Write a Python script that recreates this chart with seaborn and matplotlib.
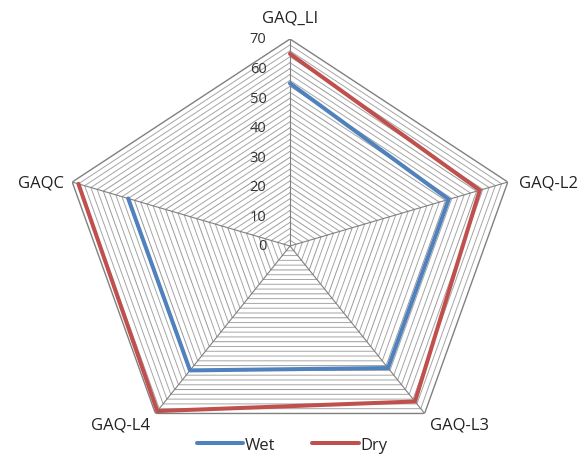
import numpy as np
import matplotlib
matplotlib.use("Agg")
import matplotlib.pyplot as plt
import matplotlib.transforms as mtransforms
import seaborn as sns
import pandas as pd

categories = ["GAQ_LI", "GAQ-L2", "GAQ-L3", "GAQ-L4", "GAQC"]
wet = [55, 51, 51, 52, 52]
dry = [65, 61, 65, 69, 68]
r_ticks = [0, 10, 20, 30, 40, 50, 60, 70]
r_max = 70

sns.set_style("white")
plt.rcParams["font.family"] = ["Open Sans", "DejaVu Sans"]

fig = plt.figure(figsize=(5.84, 4.56), dpi=100)
ax = fig.add_axes([61/584, 2/456, 458/584, 414/456], projection="polar")
ax.set_aspect("auto")
ax.set_theta_offset(np.pi/2)
ax.set_theta_direction(-1)

n = len(categories)
theta = np.linspace(0, 2*np.pi, n, endpoint=False)
theta_c = np.append(theta, theta[0])

# polygon gridlines every 2 units
for rv in range(2, r_max + 1, 2):
    col = "#808080" if rv == r_max else ("#999999" if rv % 10 == 0 else "#a6a6a6")
    lw = 1.0 if rv == r_max else 0.7
    ax.plot(theta_c, [rv]*(n+1), color=col, lw=lw, zorder=1)
for t in theta:
    ax.plot([t, t], [0, r_max], color="#808080", lw=0.8, zorder=1)

for name, vals, color in [("Wet", wet, "#4F81BD"), ("Dry", dry, "#C0504D")]:
    df = pd.DataFrame({"theta": theta_c, "r": list(vals) + [vals[0]]})
    sns.lineplot(data=df, x="theta", y="r", sort=False, ax=ax, color=color,
                 lw=2.9, label=name, zorder=3)

ax.set_ylim(0, r_max)
ax.grid(False)
ax.spines["polar"].set_visible(False)
ax.set_xticks([])
ax.set_yticks([])
ax.set_xlabel("")
ax.set_ylabel("")

# radial tick labels
off = mtransforms.offset_copy(ax.transData, fig=fig, x=-17, y=0, units="points")
for v in r_ticks:
    ax.text(0, v, str(v), transform=off, ha="right", va="center", fontsize=10.5, color="#333333")

# category labels
lab = [(0, 10, "center", "bottom"), (8, 0, "left", "center"), (4, -2, "left", "top"),
       (-4, -2, "right", "top"), (-6, 0, "right", "center")]
for t, name, (dx, dy, ha, va) in zip(theta, categories, lab):
    tr = mtransforms.offset_copy(ax.transData, fig=fig, x=dx, y=dy, units="points")
    ax.text(t, r_max, name, transform=tr, ha=ha, va=va, fontsize=12, color="#222222")

leg = ax.legend(loc="center", bbox_to_anchor=(0.5, 10/456), bbox_transform=fig.transFigure,
                ncol=2, frameon=False, fontsize=12, handlelength=2.8, columnspacing=2.2,
                handletextpad=0.1)

fig.savefig("out.png", dpi=100)
